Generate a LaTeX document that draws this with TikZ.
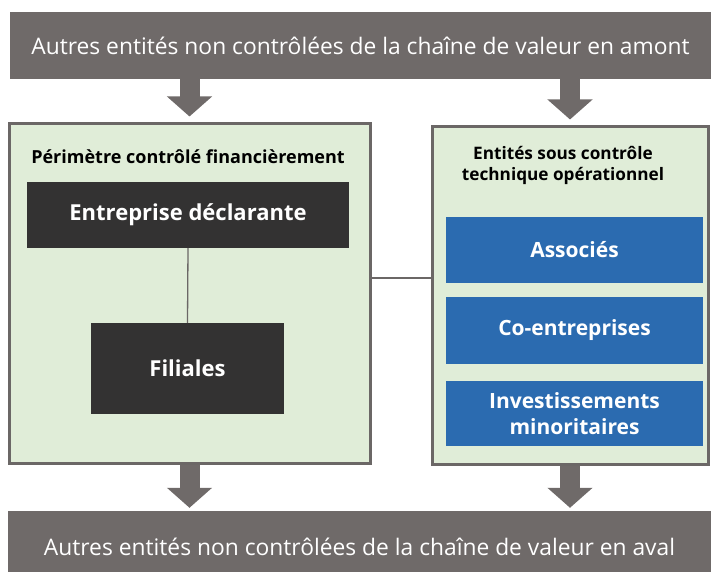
\documentclass[tikz,border=0pt]{standalone}
\usepackage{fontspec}
\setmainfont{Open Sans}
\usetikzlibrary{arrows.meta}
\definecolor{bargray}{HTML}{6F6A69}
\definecolor{boxborder}{HTML}{6B6766}
\definecolor{palegreen}{HTML}{E0EDD8}
\definecolor{darkbox}{HTML}{333232}
\definecolor{bluebox}{HTML}{2B6BB0}
\tikzset{
  bar/.style={fill=bargray, draw=none, text=white, inner sep=0pt, font=\fontsize{22.8}{24}\selectfont},
  zone/.style={fill=palegreen, draw=boxborder, line width=3pt, inner sep=0pt},
  darkblk/.style={fill=darkbox, draw=none, text=white, inner sep=0pt, font=\bfseries\fontsize{22}{24}\selectfont},
  blueblk/.style={fill=bluebox, draw=none, text=white, inner sep=0pt, align=center, font=\bfseries\fontsize{21}{26}\selectfont},
  zonetitle/.style={text=black, inner sep=0pt, align=center, font=\bfseries\fontsize{17.2}{21}\selectfont},
  bigarrow/.style={draw=bargray, line width=20pt, -{Triangle[width=44pt,length=20pt]}},
  link/.style={draw=boxborder, line width=1.3pt}
}
\begin{document}
\begin{tikzpicture}[x=1pt,y=-1pt]
\useasboundingbox (0,0) rectangle (711,572);
% bars
\node[bar, minimum width=701pt, minimum height=67pt] (top) at (360.5,45.5) {Autres entités non contrôlées de la chaîne de valeur en amont};
\node[bar, minimum width=703pt, minimum height=72pt, text depth=0pt] (bot) at (359.5,547) {Autres entités non contrôlées de la chaîne de valeur en aval};
% zones
\node[zone, minimum width=361pt, minimum height=339pt] (lbox) at (189.5,293.5) {};
\node[zone, minimum width=276pt, minimum height=337pt] (rbox) at (570,295.5) {};
% titles
\node[zonetitle, font=\bfseries\fontsize{18}{20}\selectfont] (ltitle) at (188,157) {Périmètre contrôlé financièrement};
\node[zonetitle] (rtitle) at (563,165) {Entités sous contrôle\\technique opérationnel};
% inner boxes
\node[darkblk, minimum width=322pt, minimum height=66pt] (ent) at (188,215) {Entreprise déclarante};
\node[darkblk, minimum width=193pt, minimum height=91pt] (fil) at (187.5,368.5) {Filiales};
\node[blueblk, minimum width=257pt, minimum height=66pt] (asso) at (574.5,250) {Associés};
\node[blueblk, minimum width=257pt, minimum height=67pt] (coent) at (574.5,330.5) {Co-entreprises};
\node[blueblk, minimum width=257pt, minimum height=65pt] (invest) at (574.5,413.5) {Investissements\\minoritaires};
% connectors
\draw[link] (ent.south) -- (fil.north);
\draw[link] (lbox.east |- 0,278) -- (rbox.west |- 0,278);
% arrows
\draw[bigarrow, shorten >=6pt] (top.south -| lbox.north) -- (lbox.north);
\draw[bigarrow, shorten >=6pt] (top.south -| rbox.north) -- (rbox.north);
\draw[bigarrow, shorten >=3pt] (lbox.south) -- (bot.north -| lbox.south);
\draw[bigarrow, shorten >=3pt] (rbox.south) -- (bot.north -| rbox.south);
\end{tikzpicture}
\end{document}
